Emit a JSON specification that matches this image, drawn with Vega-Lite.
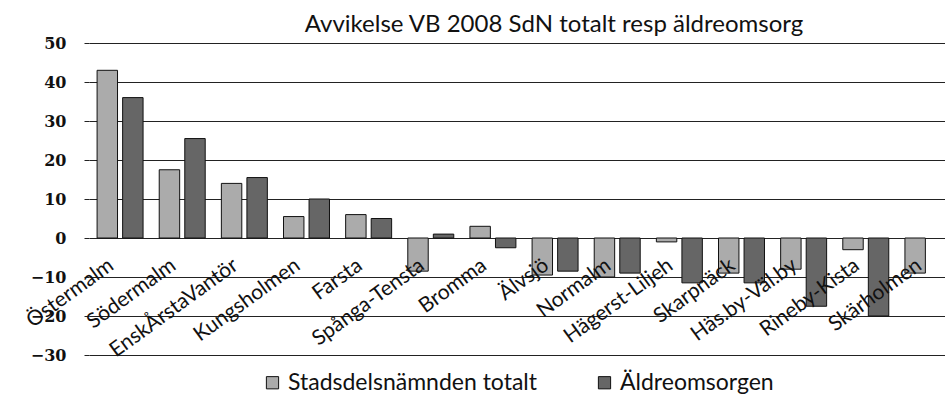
{
  "$schema": "https://vega.github.io/schema/vega-lite/v6.json",
  "width": 870,
  "height": 312,
  "padding": {"left": 22, "top": 13, "right": 0, "bottom": 0},
  "background": "white",
  "title": {"text": "Avvikelse VB  2008 SdN totalt resp äldreomsorg", "font": "Lato", "fontSize": 24, "fontWeight": "normal", "color": "#111", "anchor": "middle", "dx": 30, "offset": -2},
  "data": {"values": [
    {"district": "Östermalm", "series": "Stadsdelsnämnden totalt", "value": 43},
    {"district": "Östermalm", "series": "Äldreomsorgen", "value": 36},
    {"district": "Södermalm", "series": "Stadsdelsnämnden totalt", "value": 17.5},
    {"district": "Södermalm", "series": "Äldreomsorgen", "value": 25.5},
    {"district": "EnskÅrstaVantör", "series": "Stadsdelsnämnden totalt", "value": 14},
    {"district": "EnskÅrstaVantör", "series": "Äldreomsorgen", "value": 15.5},
    {"district": "Kungsholmen", "series": "Stadsdelsnämnden totalt", "value": 5.5},
    {"district": "Kungsholmen", "series": "Äldreomsorgen", "value": 10},
    {"district": "Farsta", "series": "Stadsdelsnämnden totalt", "value": 6},
    {"district": "Farsta", "series": "Äldreomsorgen", "value": 5},
    {"district": "Spånga-Tensta", "series": "Stadsdelsnämnden totalt", "value": -8.5},
    {"district": "Spånga-Tensta", "series": "Äldreomsorgen", "value": 1},
    {"district": "Bromma", "series": "Stadsdelsnämnden totalt", "value": 3},
    {"district": "Bromma", "series": "Äldreomsorgen", "value": -2.5},
    {"district": "Älvsjö", "series": "Stadsdelsnämnden totalt", "value": -9.5},
    {"district": "Älvsjö", "series": "Äldreomsorgen", "value": -8.5},
    {"district": "Normalm", "series": "Stadsdelsnämnden totalt", "value": -10},
    {"district": "Normalm", "series": "Äldreomsorgen", "value": -9},
    {"district": "Hägerst-Liljeh", "series": "Stadsdelsnämnden totalt", "value": -1},
    {"district": "Hägerst-Liljeh", "series": "Äldreomsorgen", "value": -11.5},
    {"district": "Skarpnäck", "series": "Stadsdelsnämnden totalt", "value": -9},
    {"district": "Skarpnäck", "series": "Äldreomsorgen", "value": -11.5},
    {"district": "Häs.by-Väl.by", "series": "Stadsdelsnämnden totalt", "value": -8},
    {"district": "Häs.by-Väl.by", "series": "Äldreomsorgen", "value": -17.5},
    {"district": "Rineby-Kista", "series": "Stadsdelsnämnden totalt", "value": -3},
    {"district": "Rineby-Kista", "series": "Äldreomsorgen", "value": -20},
    {"district": "Skärholmen", "series": "Stadsdelsnämnden totalt", "value": -9}
  ]},
  "mark": {"type": "bar", "stroke": "#111", "strokeWidth": 1},
  "encoding": {
    "x": {
      "field": "district", "type": "nominal", "sort": null,
      "scale": {"paddingInner": 0.26, "paddingOuter": 0.13},
      "axis": {"title": null, "labelAngle": -36, "offset": -117, "domain": false, "ticks": false, "labelFont": "Lato", "labelFontSize": 21, "labelColor": "#111", "labelPadding": 16, "labelOffset": -15, "labelOverlap": false, "zindex": 1}
    },
    "xOffset": {"field": "series", "type": "nominal", "sort": ["Stadsdelsnämnden totalt", "Äldreomsorgen"], "scale": {"paddingInner": 0.2}},
    "y": {
      "field": "value", "type": "quantitative",
      "scale": {"domain": [-30, 50], "nice": false},
      "axis": {"title": null, "values": [-30, -20, -10, 0, 10, 20, 30, 40, 50], "grid": true, "gridColor": "#222", "gridOpacity": 1, "domain": false, "ticks": true, "tickColor": "#222", "tickSize": 5, "labelFont": "DejaVu Serif", "labelFontWeight": "bold", "labelFontSize": 16, "labelPadding": 18, "labelColor": "#111"}
    },
    "color": {
      "field": "series", "type": "nominal",
      "scale": {"domain": ["Stadsdelsnämnden totalt", "Äldreomsorgen"], "range": ["#ababab", "#666666"]},
      "legend": {"title": null, "orient": "none", "legendX": 172, "legendY": 328, "direction": "horizontal", "symbolType": "square", "symbolSize": 150, "symbolStrokeColor": "#111", "symbolStrokeWidth": 1, "labelFont": "Lato", "labelFontSize": 23, "labelColor": "#111", "columnPadding": 55, "labelLimit": 400}
    }
  },
  "config": {"view": {"stroke": null}}
}
